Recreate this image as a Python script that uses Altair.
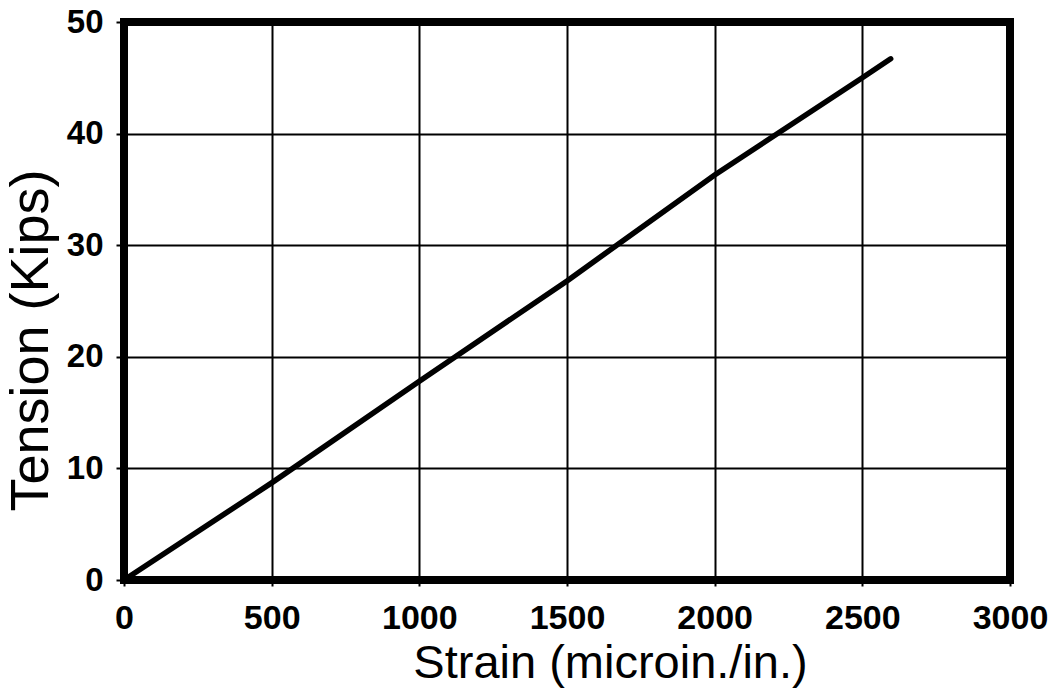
import altair as alt
import pandas as pd

strain = [0, 500, 1000, 1500, 2000, 2500, 2596]
tension = [0, 8.7, 17.8, 26.8, 36.3, 45.0, 46.7]
x_ticks = [0, 500, 1000, 1500, 2000, 2500, 3000]
y_ticks = [0, 10, 20, 30, 40, 50]

df = pd.DataFrame({"strain": strain, "tension": tension})

FONT = "Liberation Sans"
W, H = 886, 558

base = alt.Chart(df)

line = base.mark_line(color="black", strokeWidth=5.5, strokeCap="round").encode(
    x=alt.X(
        "strain:Q",
        scale=alt.Scale(domain=[0, 3000], nice=False, zero=True),
        axis=alt.Axis(
            title="Strain (microin./in.)",
            values=x_ticks,
            format="d",
            grid=True,
            gridColor="black",
            gridWidth=2,
            gridOpacity=1,
            domain=False,
            ticks=True,
            tickColor="black",
            tickWidth=2,
            tickSize=6,
            labelFont=FONT,
            labelFontSize=34,
            labelFontWeight="bold",
            labelColor="black",
            labelPadding=15,
            labelFlush=False,
            titleFont=FONT,
            titleFontSize=47,
            titleFontWeight="normal",
            titleColor="black",
            titlePadding=5,
            titleX=486,
        ),
    ),
    y=alt.Y(
        "tension:Q",
        scale=alt.Scale(domain=[0, 50], nice=False, zero=True),
        axis=alt.Axis(
            title="Tension (Kips)",
            values=y_ticks,
            format="d",
            grid=True,
            gridColor="black",
            gridWidth=2,
            gridOpacity=1,
            domain=False,
            ticks=True,
            tickColor="black",
            tickWidth=2,
            tickSize=8,
            labelFont=FONT,
            labelFontSize=33,
            labelFontWeight="bold",
            labelColor="black",
            labelPadding=13,
            labelFlush=False,
            titleFont=FONT,
            titleFontSize=54,
            titleFontWeight="normal",
            titleColor="black",
            titlePadding=8,
            titleY=318,
        ),
    ),
    order=alt.Order("strain:Q"),
)

frame = (
    alt.Chart(pd.DataFrame({"k": [0]}))
    .mark_rect(fill=None, filled=False, stroke="black", strokeWidth=8, strokeJoin="miter")
    .encode(
        x=alt.value(0),
        x2=alt.value(W),
        y=alt.value(0),
        y2=alt.value(H),
    )
)

chart = (
    alt.layer(line, frame)
    .properties(
        width=W,
        height=H,
        padding={"left": 124, "top": 22, "right": 46, "bottom": 113},
        autosize=alt.AutoSizeParams(type="none"),
    )
    .configure_view(stroke=None)
    .configure(background="white")
)

chart.save("out.html", embed_options={"renderer": "svg", "actions": False})
